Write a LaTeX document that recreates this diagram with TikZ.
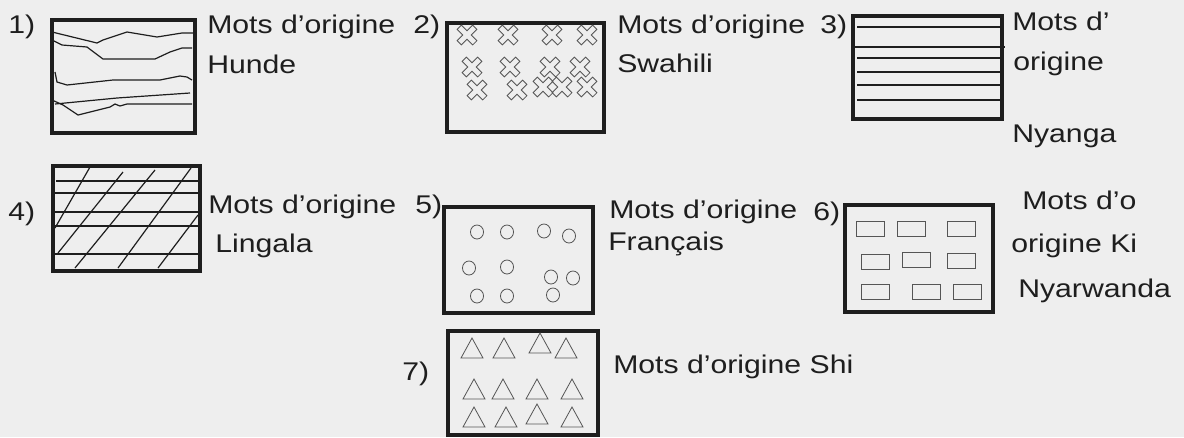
\documentclass[tikz,border=0pt]{standalone}
\usepackage{fontspec}
\newfontfamily\police[FakeStretch=1.18]{Liberation Sans}
\usepackage{tikz}
\definecolor{encre}{HTML}{1E1E1E}
\definecolor{papier}{HTML}{EEEEEE}
\definecolor{trait}{HTML}{555555}

\tikzset{
  cadre/.style={draw=encre, line width=2.4pt},
  hachure/.style={draw=encre, line width=0.9pt},
  motif/.style={draw=trait, line width=0.6pt},
  legende/.style={font=\police\fontsize{19.2}{22}\selectfont, text=encre,
    inner sep=0pt, anchor=base west},
  croix/.pic={\draw[motif, rotate=45] (3,11) -- (3,3) -- (11,3) -- (11,-3)
    -- (3,-3) -- (3,-11) -- (-3,-11) -- (-3,-3) -- (-11,-3) -- (-11,3)
    -- (-3,3) -- (-3,11) -- cycle;},
  rond/.pic={\draw[motif] (0,0) ellipse [x radius=4.9pt, y radius=5.25pt];},
  brique/.pic={\draw[motif] (-14,-7.5) rectangle (14,7.5);},
  pointe/.pic={\draw[motif] (-11,10) -- (11,10) -- (0,-10) -- cycle;}
}

\begin{document}
\begin{tikzpicture}[x=0.75pt, y=-0.75pt]
  \useasboundingbox (0,0) rectangle (1184,437);
  \fill[papier] (0,0) rectangle (1184,437);
  % 1) Hunde
  \draw[cadre] (52,20) rectangle (195,133);
  \draw[hachure] (52,32) -- (97,43) -- (103,40) -- (127,32) -- (157,37) -- (182,33) -- (193,33);
  \draw[hachure] (52,40) -- (62,45) -- (87,47) -- (103,59) -- (155,59) -- (170,52) -- (182,48) -- (192,48);
  \draw[hachure] (55,72) -- (57,82) -- (67,85) -- (113,80) -- (160,80) -- (180,76) -- (187,77) -- (192,80);
  \draw[hachure] (55,104) -- (117,98) -- (190,93);
  \draw[hachure] (52,100) -- (63,105) -- (78,115) -- (110,107) -- (115,104) -- (120,106) -- (127,104) -- (192,104);
  \node[legende] (n1) at (8,33) {1)};
  \node[legende] (t1) at (207,33) {Mots d’origine};
  \node[legende] (t1b) at (207,73) {Hunde};
  % 2) Swahili
  \draw[cadre] (447,23) rectangle (604,132);
  \foreach \p in {(467,35),(508,35),(552,35),(587,35),
                  (472,67),(510,67),(550,67),(580,67),
                  (477,90),(517,90),(543,87),(562,87),(587,87)}
    \pic at \p {croix};
  \node[legende] (n2) at (413,33) {2)};
  \node[legende] (t2) at (617,33) {Mots d’origine};
  \node[legende] (t2b) at (617,72) {Swahili};
  % 3) Nyanga
  \draw[cadre] (853,16) rectangle (1002,119);
  \foreach \y in {27,58,72,85,100}
    \draw[hachure] (857,\y) -- (1000,\y);
  \draw[hachure] (855,47) -- (1005,47);
  \node[legende] (n3) at (820,33) {3)};
  \node[legende] (t3) at (1012,30) {Mots d’};
  \node[legende] (t3b) at (1013,70) {origine};
  \node[legende] (t3c) at (1012,142) {Nyanga};
  % 4) Lingala
  \draw[cadre] (53,166) rectangle (200,271);
  \draw[hachure] (56,181) -- (198,181);
  \foreach \y in {193,212,226,254}
    \draw[hachure] (53,\y) -- (198,\y);
  \draw[hachure] (90,167) -- (55,228);
  \draw[hachure] (123,172) -- (58,253);
  \draw[hachure] (155,170) -- (75,268);
  \draw[hachure] (191,168) -- (118,268);
  \draw[hachure] (198,215) -- (158,268);
  \node[legende] (n4) at (8,220) {4)};
  \node[legende] (t4) at (208,213) {Mots d’origine};
  \node[legende] (n5) at (415,213) {5)};
  \node[legende] (t4b) at (215,252) {Lingala};
  % 5) Français
  \draw[cadre] (444,207) rectangle (593,313);
  \foreach \p in {(477,232),(507,232),(544,231),(569,236),
                  (469,268),(507,267),(551,277),(573,278),
                  (477,296),(507,296),(553,295)}
    \pic at \p {rond};
  \node[legende] (t5) at (609,218) {Mots d’origine};
  \node[legende] (n6) at (813,220) {6)};
  \node[legende] (t5b) at (608,250) {Français};
  % 6) Kinyarwanda
  \draw[cadre] (845,205) rectangle (993,312);
  \foreach \p in {(870,229),(911,229),(961,229),
                  (875,262),(916,260),(961,261),
                  (875,292),(926,292),(967,292)}
    \pic at \p {brique};
  \node[legende] (t6) at (1022,209) {Mots d’o};
  \node[legende] (t6b) at (1011,252) {origine Ki};
  \node[legende] (t6c) at (1018,297) {Nyarwanda};
  % 7) Shi
  \draw[cadre] (448,331) rectangle (598,435);
  \foreach \p in {(472,348),(504,348),(540,343),(566,348),
                  (474,389),(503,389),(537,389),(572,389),
                  (474,417),(506,417),(537,414),(572,417)}
    \pic at \p {pointe};
  \node[legende] (n7) at (402,380) {7)};
  \node[legende] (t7) at (613,373) {Mots d’origine Shi};
\end{tikzpicture}
\end{document}
